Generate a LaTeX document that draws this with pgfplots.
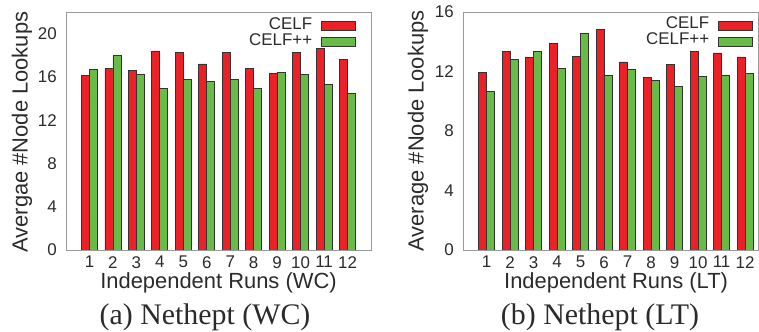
\documentclass[border=0pt]{standalone}
\usepackage{pgfplots}
\pgfplotsset{compat=1.18}
\usepackage{pgfplotstable}
\usepackage{fontspec}
\setmainfont{Liberation Sans}
\newfontfamily\capfont{Liberation Serif}
\definecolor{celfred}{HTML}{EC2027}
\definecolor{celfgreen}{HTML}{68BB47}
\definecolor{txt}{HTML}{2B2B2B}
\definecolor{framec}{HTML}{9A9A9A}

\pgfplotstableread{
x celf celfpp
1 16.1 16.7
2 16.8 18.0
3 16.6 16.2
4 18.4 14.9
5 18.3 15.8
6 17.2 15.6
7 18.3 15.75
8 16.8 14.9
9 16.3 16.4
10 18.25 16.25
11 18.6 15.3
12 17.6 14.5
}\wc

\pgfplotstableread{
x celf celfpp
1 11.95 10.65
2 13.36 12.8
3 12.93 13.36
4 13.9 12.2
5 13.04 14.55
6 14.8 11.75
7 12.64 12.13
8 11.6 11.4
9 12.48 11.0
10 13.36 11.65
11 13.25 11.77
12 12.98 11.86
}\lt

\begin{document}
\begin{tikzpicture}
\useasboundingbox (0bp,0bp) rectangle (759bp,332bp);
\pgfplotsset{
 mystyle/.style={
  scale only axis, anchor=south west,
  height=238bp,
  ybar=0pt, bar width=8bp,
  xmin=0, ymin=0,
  xtick={1,...,12},
  axis line style={framec, line width=0.8bp},
  major tick length=0pt,
  tick label style={font=\fontsize{17}{17}\selectfont, text=txt},
  label style={font=\fontsize{22}{22}\selectfont, text=txt, inner sep=0pt},
  /pgf/number format/assume math mode=true,
  xticklabel style={inner sep=0pt, yshift=-6bp, anchor=north, text depth=0pt},
  yticklabel style={inner sep=0pt, xshift=-9bp, anchor=east},
  legend plot pos=right,
  legend cell align=right,
  legend style={draw=none, fill=none, inner sep=0pt, outer sep=0pt,
    font=\fontsize{17}{17}\selectfont, text=txt,
    nodes={inner sep=0pt, text height=9bp, text depth=3bp},
    row sep=4bp, column sep=9bp},
  every axis plot/.append style={draw=black!80, line width=0.8bp},
 },
 sw/.style={legend image code/.code={\draw[##1, line width=0.8bp] (0bp,-4.5bp) rectangle (34bp,4.5bp);}},
}
\begin{axis}[mystyle, at={(66bp,82bp)}, width=305bp, xmax=13, ymax=22,
  ytick={0,4,8,12,16,20},
  xlabel={Independent Runs (WC)}, ylabel={Avergae \#Node Lookups},
  xlabel style={at={(axis description cs:0.5,0)}, yshift=-33bp, anchor=center},
  ylabel style={at={(axis description cs:-0.144,0.495)}, anchor=center},
  legend style={at={(axis description cs:1,1)}, anchor=north east, xshift=-15bp, yshift=-8bp}]
\addplot[fill=celfred, sw] table[x=x,y=celf]{\wc};
\addplot[fill=celfgreen, sw] table[x=x,y=celfpp]{\wc};
\legend{CELF, CELF++}
\end{axis}
\begin{axis}[mystyle, at={(463bp,82bp)}, width=295bp, xmax=12.55, ymax=16,
  ytick={0,4,8,12,16},
  xlabel={Independent Runs (LT)}, ylabel={Average \#Node Lookups},
  xlabel style={at={(axis description cs:0.519,0)}, yshift=-33bp, anchor=center},
  ylabel style={at={(axis description cs:-0.1525,0.5)}, anchor=center},
  legend style={at={(axis description cs:1,1)}, anchor=north east, xshift=-5bp, yshift=-8bp}]
\addplot[fill=celfred, sw] table[x=x,y=celf]{\lt};
\addplot[fill=celfgreen, sw] table[x=x,y=celfpp]{\lt};
\legend{CELF, CELF++}
\end{axis}
\node[font=\capfont\fontsize{30}{30}\selectfont, text=txt] at (205bp,15bp) {(a) Nethept (WC)};
\node[font=\capfont\fontsize{30}{30}\selectfont, text=txt] at (600bp,15bp) {(b) Nethept (LT)};
\end{tikzpicture}
\end{document}
